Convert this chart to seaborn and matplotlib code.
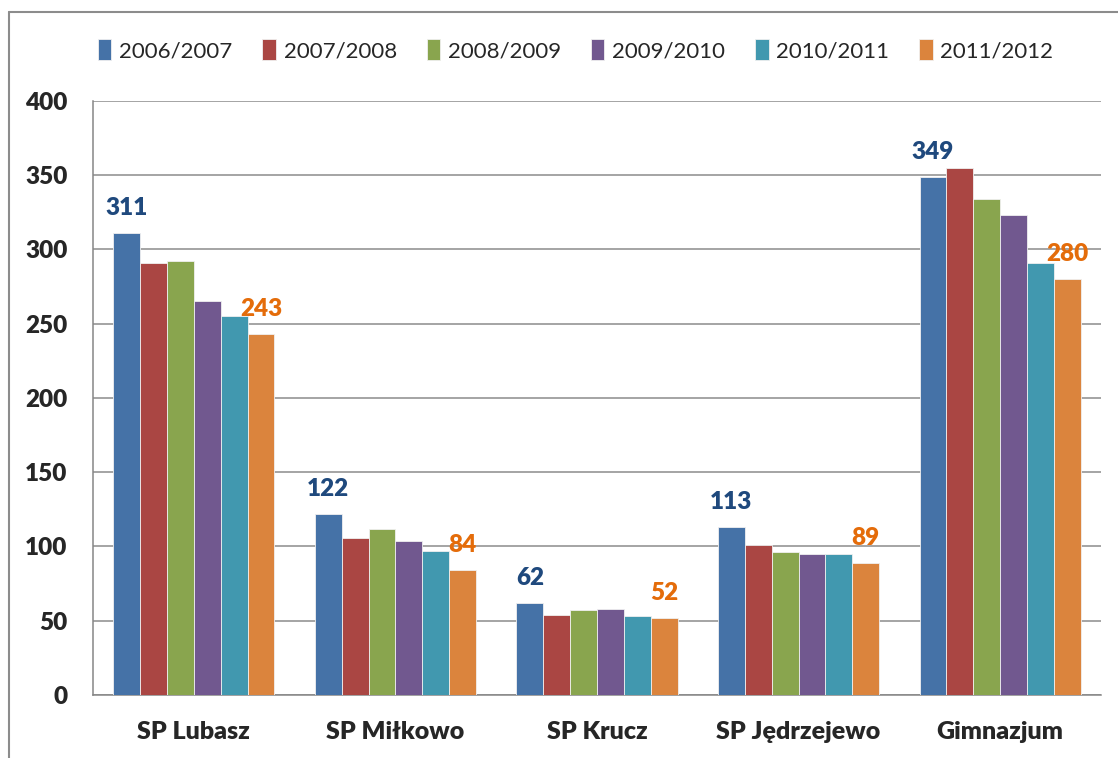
import matplotlib
matplotlib.use('Agg')
import matplotlib.pyplot as plt
from matplotlib.lines import Line2D
import seaborn as sns
import pandas as pd

schools = ['SP Lubasz', 'SP Miłkowo', 'SP Krucz', 'SP Jędrzejewo', 'Gimnazjum']
years = ['2006/2007', '2007/2008', '2008/2009', '2009/2010', '2010/2011', '2011/2012']

y2006 = [311, 122, 62, 113, 349]
y2007 = [291, 106, 54, 101, 355]
y2008 = [292, 112, 57, 96, 334]
y2009 = [265, 104, 58, 95, 323]
y2010 = [255, 97, 53, 95, 291]
y2011 = [243, 84, 52, 89, 280]

colors = ['#4572A7', '#AA4643', '#89A54E', '#71588F', '#4198AF', '#DB843D']


def build_frame():
    """Long format table for seaborn: one row per school and year."""
    series = [y2006, y2007, y2008, y2009, y2010, y2011]
    rows = []
    for year, values in zip(years, series):
        for school, v in zip(schools, values):
            rows.append({'school': school, 'year': year, 'count': v})
    return pd.DataFrame(rows)


def main():
    df = build_frame()

    sns.set_style('white')
    plt.rcParams['font.family'] = ['Lato', 'DejaVu Sans']

    fig = plt.figure(figsize=(11.18, 7.58), dpi=100)
    ax = fig.add_axes([0.0832, 0.0831, 0.9016, 0.7837])

    sns.barplot(data=df, x='school', y='count', hue='year', order=schools,
                hue_order=years, palette=colors, width=0.8, saturation=1,
                edgecolor='#f0f0f0', linewidth=0.6, ax=ax, zorder=3)

    handles, labels = ax.get_legend_handles_labels()
    ax.legend_.remove()
    fig.legend(handles, labels, loc='center', bbox_to_anchor=(0.515, 0.934),
               ncol=6, frameon=False, fontsize=16, handlelength=0.6,
               handleheight=1.1, handletextpad=0.35, columnspacing=1.35)

    # only first and last season get value labels
    ax.bar_label(ax.containers[0], padding=10, fontsize=17.5, fontweight='heavy',
                 color='#1F497D')
    ax.bar_label(ax.containers[-1], padding=10, fontsize=17.5, fontweight='heavy',
                 color='#E46C0A')

    ax.set_ylim(0, 400)
    ax.set_xlim(-0.5, 4.5)
    ax.set_yticks(range(0, 401, 50))
    ax.set_xlabel('')
    ax.set_ylabel('')
    ax.yaxis.grid(True, color='#8c8c8c', linewidth=1.1, zorder=0)
    ax.set_axisbelow(True)

    for side in ['top', 'right']:
        ax.spines[side].set_visible(False)
    for side in ['left', 'bottom']:
        ax.spines[side].set_color('#868686')
        ax.spines[side].set_linewidth(1.1)

    ax.tick_params(axis='y', direction='out', length=6.5, width=1.1,
                   color='#868686', pad=12, labelsize=17.5)
    ax.set_xticks([i - 0.5 for i in range(6)], minor=True)
    ax.tick_params(axis='x', which='minor', direction='out', length=5,
                   width=1.1, color='#868686')
    ax.tick_params(axis='x', which='major', length=0, pad=19, labelsize=18)
    for t in ax.get_xticklabels() + ax.get_yticklabels():
        t.set_fontweight('heavy')

    # outer chart border (cropped at right/bottom)
    fig.add_artist(Line2D([0.008, 1.0], [0.984, 0.984], color='#8c8c8c',
                          linewidth=1.5, transform=fig.transFigure))
    fig.add_artist(Line2D([0.008, 0.008], [0.0, 0.984], color='#8c8c8c',
                          linewidth=1.5, transform=fig.transFigure))

    fig.savefig('out.png', dpi=100, facecolor='white')
    plt.close(fig)


if __name__ == '__main__':
    main()
